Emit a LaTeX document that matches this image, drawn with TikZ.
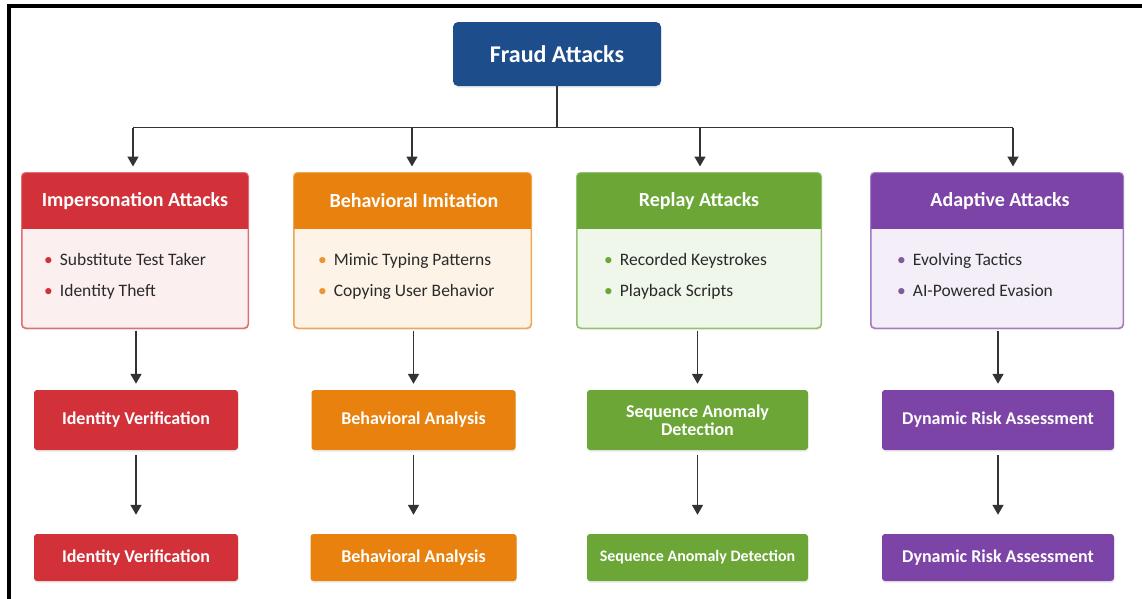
\documentclass[tikz,border=0pt]{standalone}
\usepackage{fontspec}
\setmainfont{Carlito}
\usetikzlibrary{arrows.meta,shadows,calc}
\definecolor{fblue}{HTML}{1E4D8C}
\definecolor{fred}{HTML}{D2313A}
\definecolor{fredl}{HTML}{FCEFF0}
\definecolor{forange}{HTML}{E8810D}
\definecolor{forangel}{HTML}{FDF3E6}
\definecolor{fgreen}{HTML}{6BA636}
\definecolor{fgreenl}{HTML}{EFF6EA}
\definecolor{fpurple}{HTML}{7D44A8}
\definecolor{fpurplel}{HTML}{F3EEF8}
\definecolor{farrow}{HTML}{333333}
\definecolor{ftext}{HTML}{2A2A2A}
\tikzset{
  cardshadow/.style={drop shadow={opacity=0.12, shadow xshift=0.5pt, shadow yshift=-2pt}},
  card/.style={draw=#1!70, line width=1pt, rounded corners=4pt, inner sep=0pt, cardshadow},
  hdrtext/.style={text=white, font=\bfseries\fontsize{20}{22}\selectfont, inner sep=0pt},
  itemtext/.style={anchor=base west, text=ftext, font=\fontsize{17.5}{20}\selectfont, inner sep=0pt},
  solidbox/.style={fill=#1, rounded corners=3pt, text=white, align=center, inner sep=0pt,
     font=\bfseries\fontsize{18}{19}\selectfont, cardshadow},
  arr/.style={draw=farrow, line width=1.7pt, -{Triangle[width=11pt,length=10pt]}},
  conn/.style={draw=farrow, line width=1.5pt},
}
\begin{document}
\begin{tikzpicture}[x=1pt,y=-1pt]
\useasboundingbox (0,0) rectangle (1142,598);
\fill[white] (0,0) rectangle (1142,598);
% frame
\draw[line width=4pt, line cap=rect] (8.5,598) -- (8.5,5.5) -- (1142,5.5);

% root
\node[fill=fblue, rounded corners=5pt, minimum width=208pt, minimum height=64pt, inner sep=0pt,
      text=white, font=\bfseries\fontsize{24}{26}\selectfont, cardshadow] (f) at (557,54) {Fraud Attacks};

% cards
\foreach \n/\cx/\w/\col in {1/135/226/fred, 2/412.5/237/forange, 3/699/244/fgreen, 4/997/252/fpurple}{
  \node[card=\col, fill=\col l, minimum width=\w pt, minimum height=155pt] (b\n) at (\cx,250.5) {};
  \begin{scope}
    \clip[rounded corners=4pt] (b\n.north west) rectangle (b\n.south east);
    \fill[\col] (b\n.north west) rectangle ($(b\n.north east)+(0,56)$);
  \end{scope}
  \draw[\col!70, line width=1pt, rounded corners=4pt] (b\n.north west) rectangle (b\n.south east);
}
\node[hdrtext] (h1) at (135,201) {Impersonation Attacks};
\node[hdrtext] (h2) at (414,201) {Behavioral Imitation};
\node[hdrtext] (h3) at (699,201) {Replay Attacks};
\node[hdrtext] (h4) at (1000,201) {Adaptive Attacks};

\node[itemtext] (i11) at (44,265) {{\color{fred}\textbullet}\hspace{7pt}Substitute Test Taker};
\node[itemtext] (i12) at (44,296) {{\color{fred}\textbullet}\hspace{7pt}Identity Theft};
\node[itemtext] (i21) at (318,265) {{\color{forange!85}\textbullet}\hspace{7pt}Mimic Typing Patterns};
\node[itemtext] (i22) at (318,296) {{\color{forange!85}\textbullet}\hspace{7pt}Copying User Behavior};
\node[itemtext] (i31) at (604,265) {{\color{fgreen}\textbullet}\hspace{7pt}Recorded Keystrokes};
\node[itemtext] (i32) at (604,296) {{\color{fgreen}\textbullet}\hspace{7pt}Playback Scripts};
\node[itemtext] (i41) at (897,265) {{\color{fpurple!60!gray}\textbullet}\hspace{7pt}Evolving Tactics};
\node[itemtext] (i42) at (897,296) {{\color{fpurple!60!gray}\textbullet}\hspace{7pt}AI-Powered Evasion};

% middle boxes
\node[solidbox=fred, minimum width=204pt, minimum height=60pt] (m1) at (136,420) {Identity Verification};
\node[solidbox=forange, minimum width=204pt, minimum height=60pt] (m2) at (413.5,420) {Behavioral Analysis};
\node[solidbox=fgreen, minimum width=221pt, minimum height=60pt] (m3) at (697.5,420) {Sequence Anomaly\\[-1pt]Detection};
\node[solidbox=fpurple, minimum width=232pt, minimum height=60pt] (m4) at (998,420) {Dynamic Risk Assessment};

% bottom boxes
\node[solidbox=fred, minimum width=204pt, minimum height=47pt] (d1) at (136,557.5) {Identity Verification};
\node[solidbox=forange, minimum width=206pt, minimum height=47pt] (d2) at (413.5,557.5) {Behavioral Analysis};
\node[solidbox=fgreen, minimum width=221pt, minimum height=47pt, font=\bfseries\fontsize{16}{18}\selectfont] (d3) at (697.5,557.5) {Sequence Anomaly Detection};
\node[solidbox=fpurple, minimum width=232pt, minimum height=47pt] (d4) at (998,557.5) {Dynamic Risk Assessment};

% tree connectors
\coordinate (bar) at (557,128);
\draw[conn] (f.south) -- (bar);
\draw[conn] ($(b1.north)+(-2,-45)$) -- ($(b4.north)+(16,-45)$);
\draw[arr, shorten >=6pt] ($(b1.north)+(-2,-45)$) -- ($(b1.north)+(-2,0)$);
\draw[arr, shorten >=6pt] ($(b2.north)+(-0.5,-45)$) -- ($(b2.north)+(-0.5,0)$);
\draw[arr, shorten >=6pt] ($(b3.north)+(1,-45)$) -- ($(b3.north)+(1,0)$);
\draw[arr, shorten >=6pt] ($(b4.north)+(16,-45)$) -- ($(b4.north)+(16,0)$);

\foreach \n in {1,...,4}{
  \draw[arr, shorten <=2pt, shorten >=6pt] (b\n.south -| m\n.north) -- (m\n.north);
  \draw[arr, shorten <=5pt, shorten >=19pt] (m\n.south) -- (d\n.north);
}
\end{tikzpicture}
\end{document}
